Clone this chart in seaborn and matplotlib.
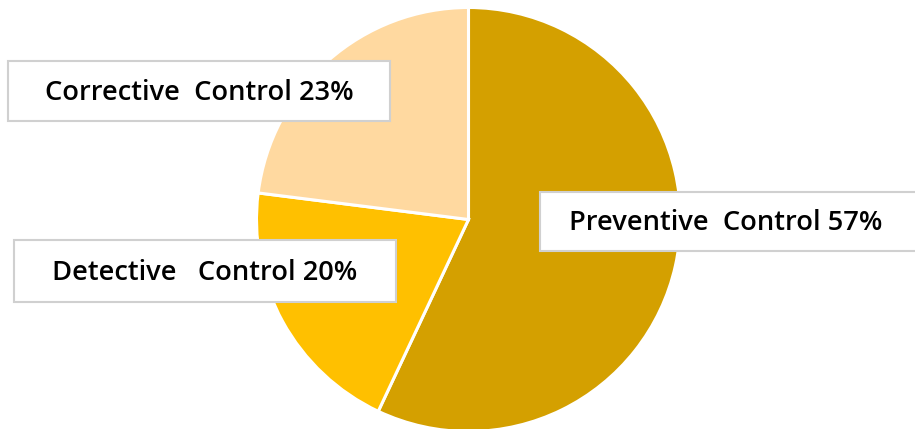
import matplotlib
matplotlib.use("Agg")
import matplotlib.pyplot as plt
import seaborn as sns
from matplotlib.patches import Rectangle

sns.set_theme(style="white")
plt.rcParams['font.family'] = ['Open Sans', 'DejaVu Sans']

categories = ['Preventive  Control', 'Detective   Control', 'Corrective  Control']
shares = [57, 20, 23]
colors = ['#D4A000', '#FFC000', '#FFD9A0']

# label boxes in pixel coords (x0, y0 from top, width, height)
boxes = [(540, 192, 380, 59), (14, 240, 382, 62), (8, 61, 382, 60)]

W, H = 915, 429
fig = plt.figure(figsize=(W / 100, H / 100), dpi=100)
ax = fig.add_axes([0, 0, 1, 1])
ax.set_xlim(0, W)
ax.set_ylim(0, H)
ax.set_axis_off()

ax.pie(shares, colors=colors, startangle=90, counterclock=False,
       center=(468.5, H - 219.5), radius=212,
       wedgeprops=dict(edgecolor='white', linewidth=2.2))
ax.set_xlim(0, W)
ax.set_ylim(0, H)
ax.set_aspect('equal')

for cat, val, (x0, y0, bw, bh) in zip(categories, shares, boxes):
    ax.add_patch(Rectangle((x0, H - y0 - bh), bw, bh, facecolor='white',
                           edgecolor='#D0D0D0', linewidth=1.5, zorder=3))
    ax.text(x0 + bw / 2 - (4 if x0 > 500 else 0), H - y0 - bh / 2 - 2, f'{cat} {val}%',
            ha='center', va='center', fontsize=19.6, fontweight='semibold',
            color='black', zorder=4)

fig.savefig('out.png', dpi=100)
